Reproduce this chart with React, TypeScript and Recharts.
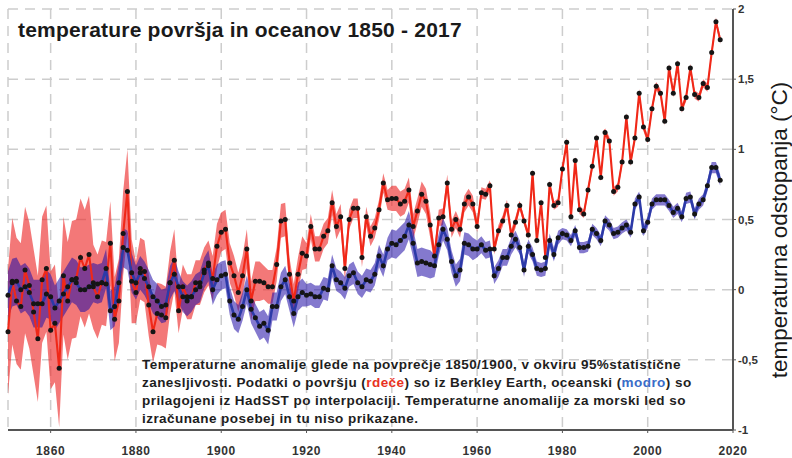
import { ComposedChart, Area, Line, XAxis, YAxis, CartesianGrid } from "recharts";

const FONT = '"Liberation Sans", Arial, Helvetica, sans-serif';

const firstYear = 1850;

// land surface anomaly (Berkeley Earth), 1850 - 2017, °C vs 1850/1900
const landAnomaly = [
  -0.30, 0.06, -0.08, -0.12, 0.14, 0.03, -0.16, -0.35, 0.07, 0.15,
  -0.29, -0.24, -0.56, 0.10, -0.08, 0.07, 0.08, 0.23, 0.15, 0.25,
  0.02, -0.05, 0.05, 0.04, 0.33, -0.21, -0.08, 0.40, 0.70, 0.06,
  -0.02, 0.15, 0.13, -0.11, -0.30, -0.17, -0.18, -0.20, 0.05, 0.21,
  -0.15, 0.02, -0.05, -0.05, 0.05, 0.05, 0.14, 0.19, 0.08, 0.31,
  0.41, 0.43, 0.19, 0.10, -0.02, 0.10, 0.29, -0.08, 0.06, 0.06,
  0.05, 0.02, 0.02, 0.18, 0.49, 0.50, 0.11, -0.08, 0.11, 0.26,
  0.24, 0.45, 0.29, 0.29, 0.38, 0.42, 0.62, 0.45, 0.52, 0.15,
  0.50, 0.58, 0.58, 0.23, 0.52, 0.38, 0.44, 0.57, 0.76, 0.64,
  0.65, 0.65, 0.61, 0.63, 0.71, 0.45, 0.56, 0.68, 0.63, 0.46,
  0.24, 0.51, 0.52, 0.76, 0.43, 0.50, 0.43, 0.61, 0.66, 0.61,
  0.45, 0.69, 0.68, 0.74, 0.29, 0.42, 0.49, 0.60, 0.39, 0.48,
  0.60, 0.49, 0.39, 0.83, 0.35, 0.62, 0.23, 0.75, 0.60, 0.62,
  0.86, 1.05, 0.52, 0.92, 0.57, 0.54, 0.71, 0.88, 1.08, 0.80,
  1.12, 1.06, 0.70, 0.73, 0.91, 1.23, 0.91, 1.08, 1.40, 1.16,
  1.07, 1.29, 1.45, 1.40, 1.20, 1.58, 1.40, 1.61, 1.29, 1.37,
  1.58, 1.39, 1.37, 1.47, 1.44, 1.69, 1.91, 1.78,
];

// ocean surface anomaly (HadSST, interpolated), same years
const oceanAnomaly = [
  -0.04, 0.05, 0.06, 0.00, 0.02, -0.02, -0.10, -0.10, -0.10, -0.03,
  -0.05, -0.13, -0.08, -0.03, 0.02, 0.07, 0.05, 0.00, 0.00, 0.02,
  0.05, 0.04, 0.05, 0.15, -0.15, -0.12, 0.05, 0.30, 0.28, 0.12,
  0.05, 0.12, 0.08, 0.02, -0.05, -0.08, -0.12, -0.11, 0.05, 0.11,
  0.02, -0.05, -0.08, -0.05, 0.00, 0.02, 0.12, 0.17, 0.00, 0.07,
  0.10, 0.11, -0.08, -0.18, -0.21, -0.12, 0.00, -0.14, -0.20, -0.26,
  -0.24, -0.29, -0.12, -0.12, 0.02, 0.07, -0.05, -0.17, -0.05, -0.02,
  -0.04, -0.03, -0.05, -0.05, 0.01, 0.00, 0.17, 0.07, 0.05, 0.01,
  0.10, 0.12, 0.05, 0.02, 0.07, 0.06, 0.11, 0.24, 0.17, 0.29,
  0.33, 0.32, 0.35, 0.38, 0.46, 0.33, 0.19, 0.20, 0.19, 0.18,
  0.17, 0.32, 0.43, 0.36, 0.20, 0.10, 0.14, 0.33, 0.32, 0.29,
  0.29, 0.32, 0.28, 0.29, 0.10, 0.15, 0.23, 0.23, 0.31, 0.36,
  0.30, 0.14, 0.31, 0.25, 0.15, 0.14, 0.15, 0.35, 0.25, 0.37,
  0.40, 0.39, 0.35, 0.42, 0.30, 0.30, 0.31, 0.43, 0.40, 0.35,
  0.49, 0.46, 0.40, 0.41, 0.44, 0.46, 0.41, 0.61, 0.66, 0.42,
  0.48, 0.61, 0.64, 0.64, 0.64, 0.60, 0.55, 0.58, 0.52, 0.65,
  0.66, 0.54, 0.61, 0.64, 0.74, 0.87, 0.87, 0.78,
];

// 95% half-widths per decade (1850s ... 2010s)
const landSpread = [0.45, 0.42, 0.3, 0.22, 0.16, 0.14, 0.12, 0.09, 0.07, 0.09, 0.06, 0.04, 0.03, 0.03, 0.03, 0.03, 0.03];
const oceanSpread = [0.17, 0.16, 0.14, 0.12, 0.11, 0.1, 0.1, 0.08, 0.08, 0.1, 0.08, 0.06, 0.05, 0.04, 0.04, 0.04, 0.04];

const yearTicks = [1860, 1880, 1900, 1920, 1940, 1960, 1980, 2000, 2020];
const anomalyTicks = [-1, -0.5, 0, 0.5, 1, 1.5, 2];

const chartData = landAnomaly.map((land, i) => {
  const decade = Math.floor(i / 10);
  const ocean = oceanAnomaly[i];
  return {
    year: firstYear + i,
    land,
    ocean,
    landBand: [land - landSpread[decade], land + landSpread[decade]],
    oceanBand: [ocean - oceanSpread[decade], ocean + oceanSpread[decade]],
  };
});

const tickStyle = { fontFamily: FONT, fontSize: 12, fontWeight: 700, fill: "#333" };

export default function App() {
  return (
    <div style={{ position: "absolute", left: 0, top: 0, width: 792, height: 458, background: "#fff" }}>
      <ComposedChart width={792} height={458} data={chartData} margin={{ top: 9, right: 0, bottom: 0, left: 8 }}>
        <CartesianGrid stroke="#cdcdcd" strokeWidth={1.5} strokeDasharray="10 7" />
        <XAxis
          dataKey="year"
          type="number"
          domain={[1850, 2020]}
          ticks={yearTicks}
          height={28}
          tickSize={3}
          tickMargin={13}
          tick={{ ...tickStyle, letterSpacing: 0.6 }}
          axisLine={{ stroke: "#555", strokeWidth: 2 }}
          tickLine={{ stroke: "#555" }}
        />
        <XAxis
          xAxisId="frame"
          orientation="top"
          dataKey="year"
          type="number"
          domain={[1850, 2020]}
          height={0}
          tick={false}
          tickLine={false}
          axisLine={{ stroke: "#777", strokeWidth: 2 }}
        />
        <YAxis
          orientation="right"
          domain={[-1, 2]}
          ticks={anomalyTicks}
          width={59}
          tickSize={3}
          tickMargin={2}
          tick={{ ...tickStyle, fontSize: 11.5 }}
          tickFormatter={(v: number) => String(v).replace(".", ",")}
          axisLine={{ stroke: "#555", strokeWidth: 2 }}
          tickLine={{ stroke: "#555" }}
        />
        <YAxis
          yAxisId="frame"
          orientation="left"
          domain={[-1, 2]}
          width={0}
          tick={false}
          tickLine={false}
          axisLine={{ stroke: "#777", strokeWidth: 2 }}
        />
        <Area type="linear" dataKey="landBand" stroke="none" fill="#ec2c2c" fillOpacity={0.64} isAnimationActive={false} />
        <Area type="linear" dataKey="oceanBand" stroke="none" fill="#2410a8" fillOpacity={0.56} isAnimationActive={false} />
        <Line
          type="linear"
          dataKey="land"
          stroke="#f02818"
          strokeWidth={2.1}
          dot={{ r: 2.5, fill: "#151515", stroke: "none" }}
          isAnimationActive={false}
        />
        <Line
          type="linear"
          dataKey="ocean"
          stroke="#2c3aa8"
          strokeWidth={2.6}
          dot={{ r: 2.5, fill: "#151515", stroke: "none" }}
          isAnimationActive={false}
        />
      </ComposedChart>
      <svg width={792} height={458} style={{ position: "absolute", left: 0, top: 0, pointerEvents: "none" }} fontFamily={FONT}>
        <text x={18} y={37} fontSize={21} fontWeight={700} fill="#1a1a1a" letterSpacing={0.2}>
          temperature površja in oceanov 1850 - 2017
        </text>
        <text transform="translate(787,230) rotate(-90)" textAnchor="middle" fontSize={22.5} fill="#1a1a1a">
          temperaturna odstopanja (°C)
        </text>
        <g fontSize={13.5} fontWeight={700} fill="#1e1e1e" letterSpacing={0.44}>
          <text x={142} y={369}>Temperaturne anomalije glede na povprečje 1850/1900, v okviru 95%statistične</text>
          <text x={142} y={387}>
            zanesljivosti. Podatki o površju (<tspan fill="#e8321e">rdeče</tspan>) so iz Berkley Earth, oceanski (
            <tspan fill="#3a6cc8">modro</tspan>) so
          </text>
          <text x={142} y={405}>prilagojeni iz HadSST po interpolaciji. Temperaturne anomalije za morski led so</text>
          <text x={142} y={423}>izračunane posebej in tu niso prikazane.</text>
        </g>
      </svg>
    </div>
  );
}
